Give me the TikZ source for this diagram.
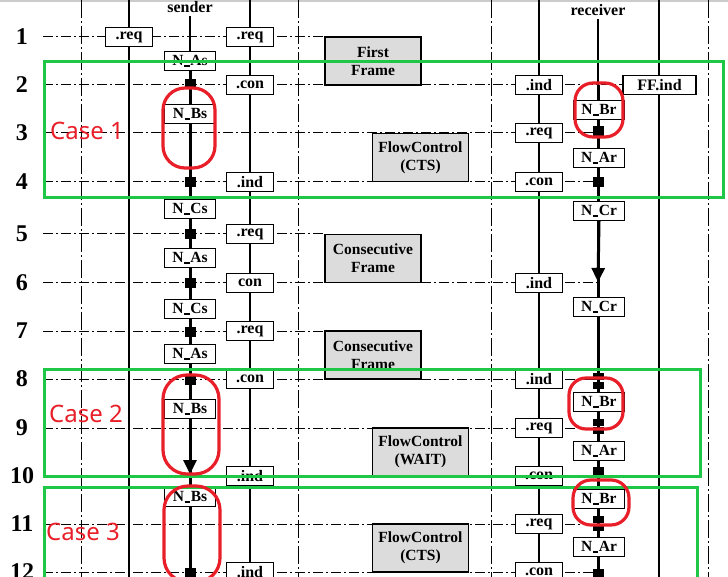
\documentclass[tikz,border=0pt]{standalone}
\usepackage{fontspec}
\setmainfont{Liberation Serif}
\newfontfamily\casefont{Noto Sans}
\usepackage{tikz}
\usetikzlibrary{arrows.meta, positioning}
\definecolor{framegray}{RGB}{220,220,220}
\definecolor{casegreen}{RGB}{30,200,70}
\definecolor{casered}{RGB}{232,30,40}
\newcommand{\nbar}{\kern0.6pt\rule[-1.2pt]{5.5pt}{1.7pt}\kern0.6pt}

\begin{document}
\begin{tikzpicture}[
    x=1pt, y=-1pt,
    colline/.style={line width=1pt, dash pattern=on 18pt off 3pt on 2pt off 3pt},
    sapline/.style={line width=1.3pt},
    rowline/.style={line width=1pt, dash pattern=on 10pt off 3pt on 2pt off 3pt},
    life/.style={line width=3pt},
    thinlife/.style={line width=1.8pt},
    timeout/.style={-{Triangle[length=14pt, width=13pt]}},
    prim/.style={rectangle, draw=black, fill=white, line width=1.1pt,
                 minimum width=47pt, minimum height=19pt, inner sep=1pt,
                 font=\fontsize{16}{16}\selectfont\bfseries},
    timer/.style={prim, minimum width=51pt, font=\fontsize{15.5}{16}\selectfont\bfseries},
    pdu/.style={rectangle, draw=black, line width=1.8pt, fill=framegray,
                minimum width=96pt, minimum height=48pt, align=center,
                font=\fontsize{15.5}{18}\selectfont\bfseries},
    stamp/.style={rectangle, fill=black, minimum width=11pt, minimum height=10pt, inner sep=0pt},
    rowno/.style={font=\fontsize{24}{24}\selectfont\bfseries},
    rolename/.style={font=\fontsize{16}{16}\selectfont\bfseries},
    casebox/.style={draw=casegreen, line width=3pt},
    watch/.style={draw=casered, line width=3.2pt},
    caselabel/.style={text=casered, font=\casefont\fontsize{24}{24}\selectfont}
]
\useasboundingbox (0,0) rectangle (728,577);
\clip (0,0) rectangle (728,577);
\fill[black!20] (0,0) rectangle (728,2.5);

\foreach \n/\y in {1/37,2/85,3/133,4/182,5/234,6/283,7/331,8/379,9/428,10/476,11/524,12/572}
    \node[rowno] (num\n) at (22,\y) {\n};

\foreach \x in {81,298,491,708}
    \draw[colline] (\x,0) -- (\x,577);
\foreach \x in {129,250,539,659}
    \draw[sapline] (\x,0) -- (\x,577);

\foreach \y in {133,182,283,379,428,476,524,572}
    \draw[rowline] (43,\y) -- (598,\y);
\draw[rowline] (43,37) -- (325,37);
\draw[rowline] (43,85) -- (623,85);
\draw[rowline] (43,234) -- (325,234);
\draw[rowline] (43,331) -- (325,331);

\node[rolename] (sender)   at (190,7)  {sender};
\node[rolename] (receiver) at (598,10) {receiver};
\coordinate (sTop) at (190,61);
\coordinate (sEnd) at (190,577);
\coordinate (rTop) at (598,85);
\coordinate (rEnd) at (598,577);
\draw[thinlife] (sender.south) -- (sTop);
\draw[life] (sTop) -- (sEnd);
\draw[thinlife] (receiver.south) -- (rTop);
\draw[life] (rTop) -- (rEnd);

\node[prim] (sReq1)  at (129,37)  {.req};
\node[prim] (sReq)   at (250,37)  {.req};
\node[prim] (sCon2)  at (250,85)  {.con};
\node[prim] (sInd4)  at (250,182) {.ind};
\node[prim] (sReq5)  at (250,234) {.req};
\node[prim] (sCon6)  at (250,283) {con};
\node[prim] (sReq7)  at (250,331) {.req};
\node[prim] (sCon8)  at (250,379) {.con};
\node[prim] (sInd10) at (250,476) {.ind};
\node[prim] (sInd12) at (250,572) {.ind};

\node[prim] (rInd2)  at (539,85)  {.ind};
\node[prim, minimum width=73pt] (ffInd) at (659.5,85) {FF.ind};
\node[prim] (rReq3)  at (539,133) {.req};
\node[prim] (rCon4)  at (539,182) {.con};
\node[prim] (rInd6)  at (539,283) {.ind};
\node[prim] (rInd8)  at (539,379) {.ind};
\node[prim] (rReq9)  at (539,428) {.req};
\node[prim] (rCon10) at (539,476) {.con};
\node[prim] (rReq11) at (539,524) {.req};
\node[prim] (rCon12) at (539,572) {.con};

\node[pdu] (first) at (373,61)      {First\\Frame};
\node[pdu] (fcCts) at (420.5,157.5) {FlowControl\\(CTS)};
\node[pdu] (cfOne) at (373,258.5)   {Consecutive\\Frame};
\node[pdu] (cfTwo) at (373,355)     {Consecutive\\Frame};
\node[pdu] (fcWait) at (420.5,452)  {FlowControl\\(WAIT)};
\node[pdu] (fcLast) at (420.5,548)  {FlowControl\\(CTS)};

\node[timer] (sAs1) at (190,61)  {N\nbar As};
\node[timer] (sBs1) at (190,114) {N\nbar Bs};
\node[timer] (sCs1) at (190,209) {N\nbar Cs};
\node[timer] (sAs2) at (190,258) {N\nbar As};
\node[timer] (sCs2) at (190,309) {N\nbar Cs};
\node[timer] (sAs3) at (190,354) {N\nbar As};
\node[timer] (sBs2) at (190,409) {N\nbar Bs};
\node[timer] (sBs3) at (190,497) {N\nbar Bs};

\node[timer] (rBr1) at (599,110) {N\nbar Br};
\node[timer] (rAr1) at (599,158) {N\nbar Ar};
\node[timer] (rCr1) at (599,211) {N\nbar Cr};
\node[timer] (rCr2) at (599,307) {N\nbar Cr};
\node[timer] (rBr2) at (599,402) {N\nbar Br};
\node[timer] (rAr2) at (599,451) {N\nbar Ar};
\node[timer] (rBr3) at (599,499) {N\nbar Br};
\node[timer] (rAr3) at (599,547) {N\nbar Ar};

\coordinate (sLate) at (190,474);
\coordinate (rLate) at (598,282);
\draw[life, timeout] (sBs2.south) -- (sLate);
\draw[life, timeout] (rCr1.south) -- (rLate);

\node[stamp] (s2)  at (190,84)  {};
\node[stamp] (s4)  at (190,182) {};
\node[stamp] (s5)  at (190,234) {};
\node[stamp] (s6)  at (190,283) {};
\node[stamp] (s7)  at (190,332) {};
\node[stamp] (s8)  at (190,380) {};
\node[stamp] (s12) at (190,573) {};
\node[stamp] (r3)  at (598,131) {};
\node[stamp] (r4)  at (598,182) {};
\node[stamp, minimum height=7pt] (r8a)  at (598,376) {};
\node[stamp, minimum height=7pt] (r8b)  at (598,385) {};
\node[stamp, minimum height=7pt] (r9a)  at (598,422) {};
\node[stamp, minimum height=7pt] (r9b)  at (598,430) {};
\node[stamp] (r10) at (598,472) {};
\node[stamp, minimum height=7pt] (r11a) at (598,519) {};
\node[stamp, minimum height=7pt] (r11b) at (598,527) {};
\node[stamp] (r12) at (598,574) {};

\draw[casebox] (44,62) rectangle (723,198);
\draw[casebox] (44,369) rectangle (700,476);
\draw[casebox] (44,487) rectangle (697,590);

\draw[watch, rounded corners=22pt] (163,88) rectangle (215,168);
\draw[watch, rounded corners=18pt] (575,83) rectangle (623,137);
\draw[watch, rounded corners=24pt] (163,375) rectangle (219,474);
\draw[watch, rounded corners=17pt] (569,378) rectangle (623,429);
\draw[watch, rounded corners=24pt] (164,486) rectangle (220,582);
\draw[watch, rounded corners=18pt] (573,480) rectangle (629,525);

\node[caselabel] (case1) at (87,131) {Case 1};
\node[caselabel] (case2) at (86,414) {Case 2};
\node[caselabel] (case3) at (83,532) {Case 3};
\end{tikzpicture}
\end{document}
